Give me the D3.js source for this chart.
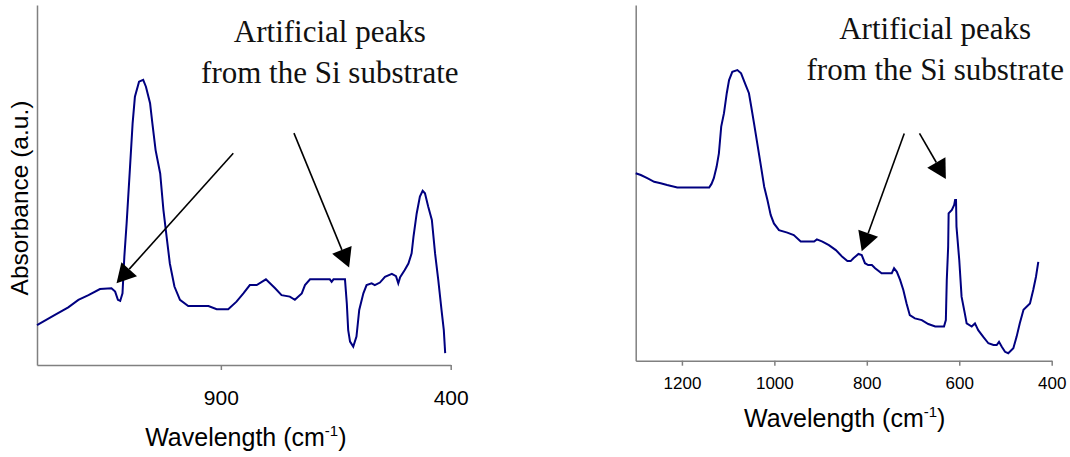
<!DOCTYPE html>
<html>
<head>
<meta charset="utf-8">
<script src="https://cdn.jsdelivr.net/npm/d3@7"></script>
<style>
  html, body { margin: 0; padding: 0; background: #ffffff; }
  svg { display: block; }
</style>
</head>
<body>
<svg id="chart" width="1070" height="457"></svg>
<script>
// ---------- Data ----------
const leftWavenumber = [1300,1261,1232,1210,1188,1163,1138,1130,1124,1119,1114,1110,1105,1098,1092,1087,1078,1069,1063,1054,1049,1042,1032,1025,1018,1011,1001,989,971,927,909,884,866,851,837,822,802,782,768,750,739,724,717,706,663,659,655,630,626,623,619,612,605,599,590,583,572,565,554,543,528,519,514,510,500,492,485,481,474,467,461,456,449,441,434,427,420,415,412];
const leftAbsorbance = [0.111,0.139,0.160,0.181,0.194,0.211,0.213,0.204,0.181,0.178,0.199,0.301,0.394,0.542,0.671,0.745,0.787,0.792,0.773,0.727,0.671,0.597,0.532,0.431,0.356,0.282,0.218,0.181,0.164,0.164,0.155,0.155,0.176,0.199,0.222,0.222,0.238,0.213,0.194,0.190,0.181,0.199,0.222,0.238,0.238,0.231,0.238,0.238,0.171,0.097,0.065,0.051,0.079,0.153,0.199,0.222,0.227,0.222,0.229,0.245,0.253,0.247,0.227,0.244,0.264,0.282,0.310,0.356,0.421,0.468,0.484,0.477,0.440,0.403,0.310,0.236,0.153,0.097,0.033];

const rightWavenumber = [1300,1289,1275,1260,1246,1232,1210,1141,1136,1131,1125,1120,1115,1109,1103,1098,1091,1080,1072,1062,1055,1050,1044,1037,1030,1022,1015,1008,1001,990,972,958,943,914,908,896,882,867,853,842,835,829,818,811,804,797,789,782,768,746,741,735,728,721,714,707,696,681,667,652,633,629,627,624,623,616,611,609,607,606,600,595,588,584,573,566,559,548,537,526,519,514,508,501,494,483,476,469,461,447,440,434,429];
const rightAbsorbance = [0.527,0.522,0.513,0.503,0.499,0.494,0.487,0.487,0.497,0.513,0.545,0.583,0.658,0.696,0.752,0.789,0.812,0.817,0.808,0.775,0.752,0.714,0.667,0.611,0.555,0.489,0.452,0.410,0.386,0.367,0.360,0.353,0.335,0.335,0.341,0.335,0.325,0.311,0.292,0.280,0.280,0.288,0.300,0.297,0.274,0.269,0.269,0.260,0.246,0.246,0.260,0.250,0.227,0.199,0.161,0.128,0.119,0.114,0.103,0.096,0.096,0.114,0.227,0.320,0.414,0.424,0.438,0.452,0.452,0.377,0.283,0.180,0.133,0.105,0.096,0.105,0.086,0.067,0.049,0.044,0.044,0.053,0.039,0.025,0.021,0.035,0.067,0.105,0.143,0.161,0.199,0.236,0.278];

const leftTicks = [900, 400];
const rightTicks = [1200, 1000, 800, 600, 400];
const xDomain = [1300, 400];
const yDomain = [0, 1];

const xTitle = "Wavelength (cm";
const xTitleSup = "-1";
const yTitle = "Absorbance (a.u.)";
const noteLines = ["Artificial peaks", "from the Si substrate"];

// annotation anchors in data units: [wavenumber, absorbance]
const leftNoteAnchor = [663, 0.897];
const rightNoteAnchor = [652, 0.904];
const leftArrows = [
  { from: [873, 0.588], to: [1127, 0.227] },
  { from: [741, 0.644], to: [621, 0.271] }
];
const rightArrows = [
  { from: [719, 0.639], to: [811, 0.308] },
  { from: [686, 0.639], to: [629, 0.511] }
];

// ---------- Layout ----------
const panels = [
  {
    x: [37, 450.7], y: [365, 5],
    wn: leftWavenumber, ab: leftAbsorbance, ticks: leftTicks,
    tickFont: 21, tickBaseline: 405, titleBaseline: 446, titleDx: 2,
    yTitle: true, note: leftNoteAnchor, arrows: leftArrows
  },
  {
    x: [635.7, 1051.7], y: [360.7, 5],
    wn: rightWavenumber, ab: rightAbsorbance, ticks: rightTicks,
    tickFont: 17, tickBaseline: 389, titleBaseline: 427, titleDx: 1,
    yTitle: false, note: rightNoteAnchor, arrows: rightArrows
  }
];

const svg = d3.select("#chart");
svg.append("rect").attr("width", 1070).attr("height", 457).attr("fill", "#fff");

const sans = "'Liberation Sans', Arial, Helvetica, sans-serif";
const serif = "'Liberation Serif', 'Times New Roman', serif";
const axisColor = "#808080";
const lineColor = "#000080";

panels.forEach(p => {
  const x = d3.scaleLinear().domain(xDomain).range(p.x);
  const y = d3.scaleLinear().domain(yDomain).range(p.y);
  const g = svg.append("g");

  // x axis
  const xAxis = d3.axisBottom(x).tickValues(p.ticks).tickSize(5).tickSizeOuter(0).tickFormat(d3.format("d"));
  const xg = g.append("g").attr("transform", `translate(0,${p.y[0]})`).call(xAxis);
  xg.select(".domain").attr("stroke", axisColor).attr("stroke-width", 1.5);
  xg.selectAll(".tick line").attr("stroke", axisColor).attr("stroke-width", 1.5);
  xg.selectAll(".tick text")
    .attr("fill", "#000")
    .attr("font-family", sans)
    .attr("font-size", p.tickFont)
    .attr("dy", null)
    .attr("y", p.tickBaseline - p.y[0]);
  xg.attr("font-family", null).attr("font-size", null);

  // y axis (line only)
  const yAxis = d3.axisLeft(y).tickValues([]).tickSizeOuter(0);
  const yg = g.append("g").attr("transform", `translate(${p.x[0]},0)`).call(yAxis);
  yg.select(".domain").attr("stroke", axisColor).attr("stroke-width", 1.5);

  // spectrum
  const pts = p.wn.map((w, i) => [w, p.ab[i]]);
  const line = d3.line().x(d => x(d[0])).y(d => y(d[1])).curve(d3.curveLinear);
  g.append("path").datum(pts)
    .attr("d", line)
    .attr("fill", "none")
    .attr("stroke", lineColor)
    .attr("stroke-width", 2)
    .attr("stroke-linejoin", "miter");

  // x title
  const cx = (p.x[0] + p.x[1]) / 2 + p.titleDx;
  const t = g.append("text")
    .attr("x", cx).attr("y", p.titleBaseline)
    .attr("text-anchor", "middle")
    .attr("font-family", sans).attr("font-size", 25).attr("fill", "#000");
  t.append("tspan").text(xTitle);
  t.append("tspan").attr("font-size", 15).attr("dy", -10).text(xTitleSup);
  t.append("tspan").attr("dy", 10).text(")");

  // y title
  if (p.yTitle) {
    g.append("text")
      .attr("transform", `translate(28,${(p.y[0] + p.y[1]) / 2 + 13}) rotate(-90)`)
      .attr("text-anchor", "middle")
      .attr("font-family", sans).attr("font-size", 24.5).attr("fill", "#000")
      .text(yTitle);
  }

  // note text
  const nx = x(p.note[0]);
  const ny = y(p.note[1]);
  noteLines.forEach((s, i) => {
    g.append("text")
      .attr("x", nx).attr("y", ny + i * 40.5)
      .attr("text-anchor", "middle")
      .attr("font-family", serif).attr("font-size", 31).attr("fill", "#111")
      .text(s);
  });

  // arrows
  const headLen = 19, headW = 21;
  p.arrows.forEach(a => {
    const x0 = x(a.from[0]), y0 = y(a.from[1]);
    const x1 = x(a.to[0]), y1 = y(a.to[1]);
    const dx = x1 - x0, dy = y1 - y0;
    const len = Math.hypot(dx, dy);
    const ux = dx / len, uy = dy / len;
    const bx = x1 - ux * headLen, by = y1 - uy * headLen;
    const nxp = -uy, nyp = ux;
    g.append("line")
      .attr("x1", x0).attr("y1", y0).attr("x2", bx).attr("y2", by)
      .attr("stroke", "#000").attr("stroke-width", 1.6);
    g.append("path")
      .attr("d", d3.line()([
        [x1, y1],
        [bx + nxp * headW / 2, by + nyp * headW / 2],
        [bx - nxp * headW / 2, by - nyp * headW / 2]
      ]) + "Z")
      .attr("fill", "#000");
  });
});
</script>
</body>
</html>
